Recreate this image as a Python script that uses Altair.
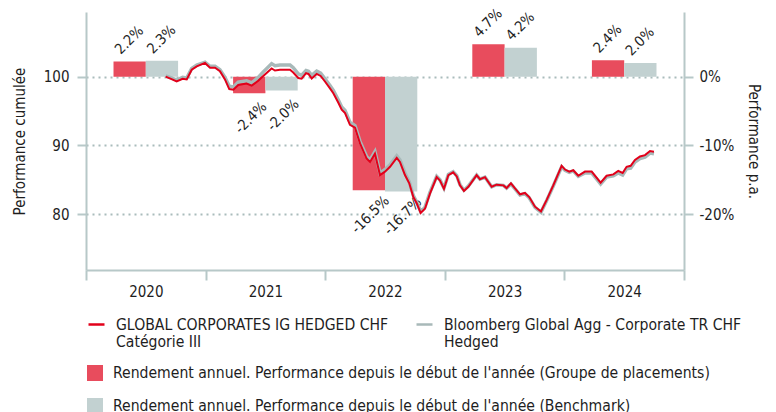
import altair as alt
import pandas as pd

# ---------------- data ----------------
FUND = "GLOBAL CORPORATES IG HEDGED CHF|Catégorie III"
BENCH = "Bloomberg Global Agg - Corporate TR CHF|Hedged"
BAR_FUND = "Rendement annuel. Performance depuis le début de l'année (Groupe de placements)"
BAR_BENCH = "Rendement annuel. Performance depuis le début de l'année (Benchmark)"

years = [2020, 2021, 2022, 2023, 2024]
fund_annual = [2.2, -2.4, -16.5, 4.7, 2.4]
bench_annual = [2.3, -2.0, -16.7, 4.2, 2.0]

t = [2020.666, 2020.72, 2020.758, 2020.808, 2020.842, 2020.884, 2020.926, 2020.995,
     2021.037, 2021.079, 2021.12, 2021.162, 2021.198, 2021.232, 2021.273, 2021.343,
     2021.385, 2021.44, 2021.482, 2021.552, 2021.58, 2021.622, 2021.706, 2021.733,
     2021.775, 2021.803, 2021.84, 2021.86, 2021.887, 2021.929, 2021.962, 2021.998,
     2022.04, 2022.068, 2022.11, 2022.138, 2022.166, 2022.207, 2022.249, 2022.291,
     2022.346, 2022.375, 2022.416, 2022.458, 2022.5, 2022.542, 2022.598, 2022.625,
     2022.667, 2022.703, 2022.737, 2022.765, 2022.798, 2022.834, 2022.876, 2022.932,
     2022.96, 2022.993, 2023.03, 2023.07, 2023.1, 2023.127, 2023.16, 2023.197,
     2023.266, 2023.294, 2023.336, 2023.392, 2023.433, 2023.49, 2023.517, 2023.553,
     2023.587, 2023.629, 2023.67, 2023.706, 2023.754, 2023.804, 2023.852, 2023.907,
     2023.977, 2024.005, 2024.041, 2024.074, 2024.116, 2024.172, 2024.228, 2024.303,
     2024.353, 2024.409, 2024.45, 2024.487, 2024.52, 2024.554, 2024.59, 2024.632,
     2024.674, 2024.716, 2024.749]

fund_cum = [100.0, 99.6, 99.3, 99.7, 99.6, 101.0, 101.5, 102.0,
            101.3, 101.3, 100.8, 99.6, 98.2, 98.1, 98.8, 99.0,
            98.7, 99.4, 100.1, 101.2, 100.9, 101.0, 101.0, 100.6,
            99.8, 99.7, 100.5, 100.4, 99.75, 100.4, 100.1, 99.3,
            98.3, 97.6, 96.2, 95.2, 94.7, 93.0, 92.6, 90.3,
            88.1, 87.6, 88.8, 85.7, 86.2, 86.9, 88.2, 87.6,
            85.7, 84.5, 82.5, 81.6, 80.2, 80.8, 83.0, 85.4,
            84.9, 83.7, 85.7, 86.1, 85.5, 84.2, 83.4, 84.0,
            85.7, 85.1, 85.4, 84.0, 84.3, 84.2, 83.8, 84.5,
            83.75, 82.9, 83.1, 82.5, 81.1, 80.4, 82.1, 84.2,
            87.05, 86.5, 86.2, 86.4, 85.6, 86.2, 86.2, 84.6,
            85.6, 85.8, 86.3, 86.0, 86.9, 87.05, 87.9, 88.4,
            88.6, 89.2, 89.1]

bench_cum = [100.1, 99.8, 99.5, 99.9, 99.8, 101.2, 101.7, 102.1,
             101.5, 101.5, 101.0, 99.9, 98.6, 98.5, 99.2, 99.4,
             99.1, 99.9, 100.7, 101.9, 101.6, 101.7, 101.7, 101.3,
             100.4, 100.2, 100.9, 100.8, 100.2, 100.8, 100.5, 99.7,
             98.7, 98.0, 96.6, 95.6, 95.1, 93.4, 92.9, 90.6,
             88.4, 87.9, 89.1, 86.0, 86.5, 87.2, 88.5, 87.9,
             86.0, 84.7, 82.7, 81.8, 80.4, 81.0, 83.2, 85.5,
             85.0, 83.8, 85.8, 86.2, 85.6, 84.3, 83.5, 84.1,
             85.7, 85.1, 85.4, 84.0, 84.3, 84.2, 83.8, 84.4,
             83.7, 82.8, 83.0, 82.4, 81.0, 80.3, 82.0, 84.1,
             86.9, 86.4, 86.1, 86.3, 85.5, 86.0, 86.0, 84.4,
             85.4, 85.6, 86.0, 85.7, 86.6, 86.7, 87.6, 88.1,
             88.3, 88.9, 88.8]

# ---------------- style ----------------
FONT = "DejaVu Sans Condensed"
TXT = "#1e1e1e"
AXIS_C = "#b7c8c8"
GRID_C = "#a9bcbc"
RED_LINE = "#e2001a"
GREY_LINE = "#a8b9b9"
RED_BAR = "#e84c5d"
GREY_BAR = "#c2d1d1"
BAR_L, BAR_M, BAR_R = 0.23, 0.5, 0.77
W, H = 598, 258

lines_df = pd.DataFrame({
    "t": t * 2,
    "value": fund_cum + bench_cum,
    "series": [FUND] * len(t) + [BENCH] * len(t),
})

bar_rows = []
for y, f, b in zip(years, fund_annual, bench_annual):
    bar_rows.append({"year": y, "series": BAR_FUND, "ret": f, "x0": y + BAR_L, "x1": y + BAR_M})
    bar_rows.append({"year": y, "series": BAR_BENCH, "ret": b, "x0": y + BAR_M, "x1": y + BAR_R})
bars_df = pd.DataFrame(bar_rows)
bars_df["xc"] = (bars_df["x0"] + bars_df["x1"]) / 2
bars_df["label"] = bars_df["ret"].map(lambda v: f"{v:.1f}%")

x_scale = alt.Scale(domain=[2020, 2025], nice=False, zero=False)
x_axis = alt.Axis(
    values=[2020, 2021, 2022, 2023, 2024, 2025], title=None,
    labelExpr="datum.value < 2025 ? format(datum.value, 'd') : ''",
    labelOffset=W / 10, labelFlush=False, labelBound=False, labelOverlap=False,
    tickSize=10, tickWidth=2, tickColor=AXIS_C, domainColor=AXIS_C, domainWidth=2,
    labelFontSize=15, labelPadding=4, grid=False,
)
left_scale = alt.Scale(domain=[71.9, 109.4], nice=False, zero=False)
right_scale = alt.Scale(domain=[-28.1, 9.4], nice=False, zero=False)

left_axis = alt.Axis(
    orient="left", values=[80, 90, 100], title="Performance cumulée",
    grid=True, gridDash=[2, 4], gridColor=GRID_C, gridWidth=2,
    tickSize=9, tickWidth=2, tickColor=AXIS_C, domainColor=AXIS_C, domainWidth=2,
    labelFontSize=15, labelPadding=8, titleFontSize=15, titlePadding=16,
)
right_axis = alt.Axis(
    orient="right", values=[0, -10, -20], title="Performance p.a.",
    labelExpr="datum.value + '%'", grid=False,
    tickSize=9, tickWidth=2, tickColor=AXIS_C, domainColor=AXIS_C, domainWidth=2,
    labelFontSize=15, labelPadding=6, titleFontSize=15, titlePadding=12,
)

fill_legend = alt.Legend(
    orient="none", legendX=1, legendY=353, direction="vertical", title=None,
    symbolType="square", symbolSize=256, symbolStrokeWidth=0, rowPadding=16,
    labelOffset=10, labelFontSize=15.6, labelLimit=1000,
)
stroke_legend = alt.Legend(
    orient="none", legendX=1, legendY=303, direction="horizontal", columns=2,
    title=None, symbolType="stroke", symbolSize=256, symbolStrokeWidth=2.5,
    labelOffset=10, labelFontSize=15.6, labelLimit=1000, columnPadding=22,
    gridAlign="none", labelExpr="split(datum.label, '|')", labelBaseline="middle",
)

fill_scale = alt.Scale(domain=[BAR_FUND, BAR_BENCH], range=[RED_BAR, GREY_BAR])
stroke_scale = alt.Scale(domain=[FUND, BENCH], range=[RED_LINE, GREY_LINE])

base_bars = alt.Chart(bars_df)
bars = base_bars.mark_bar().encode(
    x=alt.X("x0:Q", scale=x_scale, axis=x_axis),
    x2="x1:Q",
    y=alt.Y("ret:Q", scale=right_scale, axis=right_axis),
    y2=alt.datum(0),
    fill=alt.Fill("series:N", scale=fill_scale, legend=fill_legend),
)
lab_pos = base_bars.transform_filter("datum.ret >= 0").mark_text(
    angle=315, align="center", baseline="middle", yOffset=-21, fontSize=14.5, color=TXT,
).encode(x=alt.X("xc:Q", scale=x_scale), y=alt.Y("ret:Q", scale=right_scale), text="label:N")
lab_neg = base_bars.transform_filter("datum.ret < 0").mark_text(
    angle=315, align="center", baseline="middle", yOffset=25, xOffset=2, fontSize=14.5, color=TXT,
).encode(x=alt.X("xc:Q", scale=x_scale), y=alt.Y("ret:Q", scale=right_scale), text="label:N")

bar_layer = alt.layer(bars, lab_pos, lab_neg)

base_lines = alt.Chart(lines_df)
grey_line = base_lines.transform_filter(alt.datum.series == BENCH).mark_line(strokeWidth=3.5).encode(
    x=alt.X("t:Q", scale=x_scale, axis=x_axis),
    y=alt.Y("value:Q", scale=left_scale, axis=left_axis),
    stroke=alt.Stroke("series:N", scale=stroke_scale, legend=stroke_legend),
)
red_line = base_lines.transform_filter(alt.datum.series == FUND).mark_line(strokeWidth=2).encode(
    x=alt.X("t:Q", scale=x_scale, axis=x_axis),
    y=alt.Y("value:Q", scale=left_scale, axis=left_axis),
    stroke=alt.Stroke("series:N", scale=stroke_scale, legend=stroke_legend),
)
line_layer = alt.layer(grey_line, red_line)

chart = alt.layer(bar_layer, line_layer).resolve_scale(y="independent").properties(
    width=W, height=H,
    autosize=alt.AutoSizeParams(type="none"),
    padding={"left": 78, "top": 4, "right": 84, "bottom": 150},
).configure(font=FONT).configure_view(stroke=None).configure_axis(
    labelColor=TXT, titleColor=TXT, titleFontWeight="normal", labelFont=FONT, titleFont=FONT,
).configure_legend(labelColor=TXT, labelFont=FONT).configure_text(font=FONT)

chart.save("out.html", embed_options={"renderer": "svg", "actions": False})
